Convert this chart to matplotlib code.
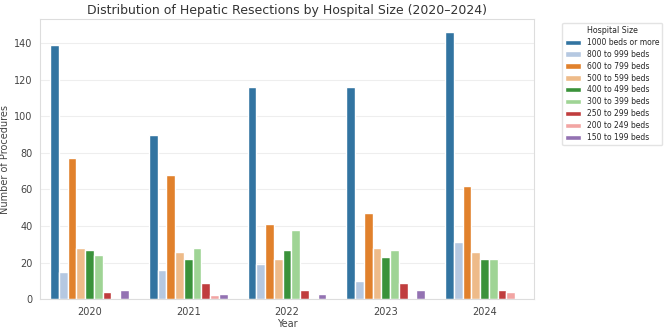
import matplotlib
matplotlib.use("Agg")
import matplotlib.pyplot as plt
import seaborn as sns
import pandas as pd

years = ["2020", "2021", "2022", "2023", "2024"]
sizes = ["1000 beds or more", "800 to 999 beds", "600 to 799 beds",
         "500 to 599 beds", "400 to 499 beds", "300 to 399 beds",
         "250 to 299 beds", "200 to 249 beds", "150 to 199 beds"]

counts_2020 = [139, 15, 77, 28, 27, 24, 4, 0, 5]
counts_2021 = [90, 16, 68, 26, 22, 28, 9, 2, 3]
counts_2022 = [116, 19, 41, 22, 27, 38, 5, 0, 3]
counts_2023 = [116, 10, 47, 28, 23, 27, 9, 0, 5]
counts_2024 = [146, 31, 62, 26, 22, 22, 5, 4, 0]

rows = []
for yr, vals in zip(years, [counts_2020, counts_2021, counts_2022, counts_2023, counts_2024]):
    for s, v in zip(sizes, vals):
        rows.append({"Year": yr, "Hospital Size": s, "Procedures": v})
df = pd.DataFrame(rows)

sns.set_style("whitegrid")
palette = sns.color_palette("tab20", 9)

fig, ax = plt.subplots(figsize=(6.69, 3.29), dpi=100)
sns.barplot(data=df, x="Year", y="Procedures", hue="Hospital Size",
            hue_order=sizes, palette=palette, ax=ax)

ax.set_title("Distribution of Hepatic Resections by Hospital Size (2020\u20132024)",
             fontsize=9, color="#333333", pad=4)
ax.set_xlabel("Year", fontsize=7, color="#444444", labelpad=2)
ax.set_ylabel("Number of Procedures", fontsize=7, color="#444444", labelpad=3)
ax.tick_params(labelsize=7, colors="#444444", pad=2)
ax.grid(axis="x", visible=False)
ax.grid(axis="y", color="#eeeeee", linewidth=0.8)
for sp in ax.spines.values():
    sp.set_color("#dddddd")

leg = ax.legend(title="Hospital Size", bbox_to_anchor=(1.05, 1), loc="upper left",
                fontsize=5.5, title_fontsize=5.7, frameon=True, labelspacing=0.38)
leg.get_frame().set_edgecolor("#dddddd")

fig.subplots_adjust(left=0.06, right=0.798, top=0.942, bottom=0.091)
fig.savefig("out.png", dpi=100)
